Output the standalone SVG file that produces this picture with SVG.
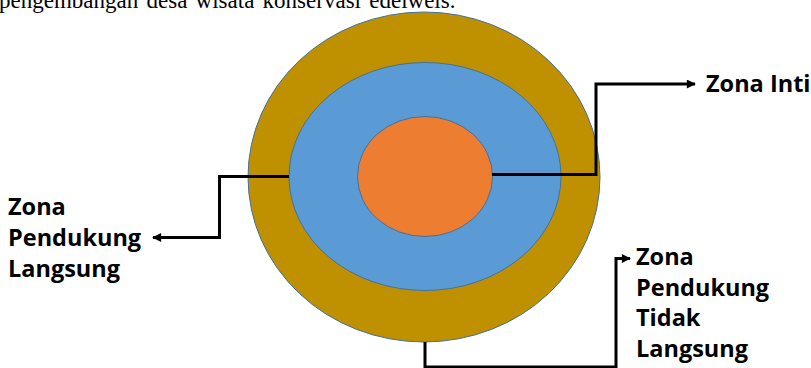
<svg xmlns="http://www.w3.org/2000/svg" width="811" height="368" viewBox="0 0 811 368">
<style>
.zone{stroke:#41719C;stroke-width:1}
.lbl{font-family:"Open Sans","Liberation Sans",sans-serif;font-weight:bold;font-size:23.5px;fill:#000}
.cap{font-family:"Liberation Serif","Times New Roman",serif;font-size:23px;fill:#000}
.conn{fill:none;stroke:#000;stroke-width:3}
</style>
<defs>
<marker id="arr" viewBox="0 0 10 10" refX="9" refY="5" markerWidth="3.6" markerHeight="3" orient="auto" markerUnits="strokeWidth">
<path d="M0,0 L10,5 L0,10 z" fill="#000"/>
</marker>
</defs>
<text class="cap" x="-1" y="7.5" word-spacing="2.5">pengembangan desa wisata konservasi edelweis.</text>
<g id="zona-pendukung-langsung-ring">
<ellipse class="zone" cx="424" cy="177" rx="176" ry="165" fill="#BF9000"/>
</g>
<g id="zona-pendukung-ring">
<ellipse class="zone" cx="425" cy="176.5" rx="136" ry="114" fill="#5B9BD5"/>
</g>
<g id="zona-inti-core">
<ellipse class="zone" cx="425" cy="176.5" rx="67.5" ry="60" fill="#ED7D31" stroke="#5a6a7a"/>
</g>
<g id="connectors">
<path class="conn" d="M492,174.5 H596 V84 H695" marker-end="url(#arr)"/>
<path class="conn" d="M289,176.5 H219.5 V237.5 H153" marker-end="url(#arr)"/>
<path class="conn" d="M425,342 V367 H616 V258.5 H630" marker-end="url(#arr)"/>
</g>
<g id="label-zona-inti">
<text class="lbl" x="706" y="92">Zona Inti</text>
</g>
<g id="label-zona-pendukung-langsung">
<text class="lbl" x="8" y="215">Zona</text>
<text class="lbl" x="8" y="246">Pendukung</text>
<text class="lbl" x="8" y="277">Langsung</text>
</g>
<g id="label-zona-pendukung-tidak-langsung">
<text class="lbl" x="636" y="265">Zona</text>
<text class="lbl" x="636" y="295.5">Pendukung</text>
<text class="lbl" x="636" y="326">Tidak</text>
<text class="lbl" x="636" y="356.5">Langsung</text>
</g>
</svg>
